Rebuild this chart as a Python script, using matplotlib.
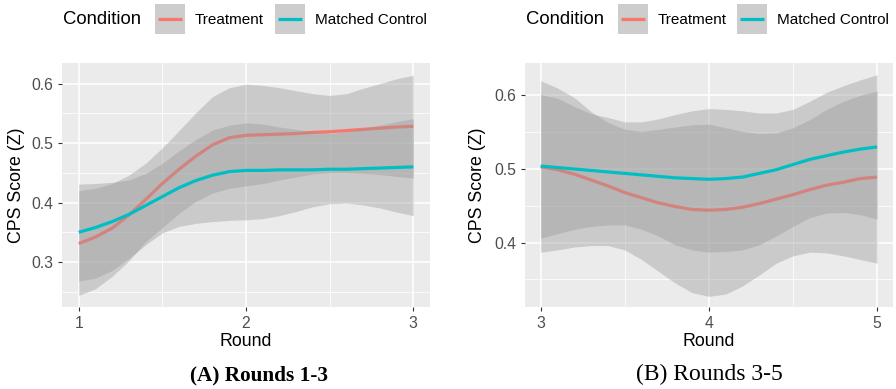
import matplotlib
matplotlib.use("Agg")
import matplotlib.pyplot as plt
from matplotlib.patches import Rectangle
from matplotlib.lines import Line2D

# ---------------- data ----------------
conditions = ["Treatment", "Matched Control"]
colors = {"Treatment": "#F8766D", "Matched Control": "#00BFC4"}

# Panel A: rounds 1-3
round_a = [1.0, 1.1, 1.2, 1.3, 1.4, 1.5, 1.6, 1.7, 1.8, 1.9, 2.0,
           2.1, 2.2, 2.3, 2.4, 2.5, 2.6, 2.7, 2.8, 2.9, 3.0]
treat_a = [0.331, 0.342, 0.357, 0.379, 0.405, 0.432, 0.456, 0.478, 0.497, 0.509, 0.513,
           0.514, 0.515, 0.516, 0.518, 0.519, 0.521, 0.523, 0.525, 0.527, 0.528]
treat_a_lo = [0.244, 0.255, 0.276, 0.302, 0.334, 0.358, 0.382, 0.402, 0.416, 0.424, 0.428,
              0.432, 0.438, 0.443, 0.448, 0.450, 0.450, 0.449, 0.447, 0.444, 0.441]
treat_a_hi = [0.420, 0.424, 0.432, 0.446, 0.466, 0.492, 0.521, 0.551, 0.578, 0.593, 0.599,
              0.597, 0.593, 0.588, 0.583, 0.580, 0.583, 0.592, 0.600, 0.608, 0.614]
ctrl_a = [0.350, 0.358, 0.368, 0.380, 0.395, 0.410, 0.425, 0.437, 0.446, 0.452, 0.454,
          0.454, 0.455, 0.455, 0.455, 0.456, 0.456, 0.457, 0.458, 0.459, 0.460]
ctrl_a_lo = [0.268, 0.273, 0.286, 0.306, 0.329, 0.349, 0.360, 0.365, 0.368, 0.370, 0.371,
             0.373, 0.378, 0.385, 0.393, 0.398, 0.399, 0.396, 0.391, 0.384, 0.378]
ctrl_a_hi = [0.431, 0.432, 0.434, 0.438, 0.449, 0.466, 0.487, 0.506, 0.522, 0.530, 0.534,
             0.532, 0.527, 0.523, 0.519, 0.516, 0.519, 0.525, 0.530, 0.536, 0.541]

# Panel B: rounds 3-5
round_b = [3.0, 3.1, 3.2, 3.3, 3.4, 3.5, 3.6, 3.7, 3.8, 3.9, 4.0,
           4.1, 4.2, 4.3, 4.4, 4.5, 4.6, 4.7, 4.8, 4.9, 5.0]
treat_b = [0.503, 0.499, 0.493, 0.485, 0.477, 0.468, 0.461, 0.454, 0.449, 0.445, 0.444,
           0.445, 0.448, 0.453, 0.459, 0.465, 0.472, 0.478, 0.482, 0.487, 0.489]
treat_b_lo = [0.387, 0.390, 0.394, 0.396, 0.396, 0.390, 0.377, 0.361, 0.345, 0.332, 0.327,
              0.330, 0.341, 0.356, 0.372, 0.382, 0.387, 0.386, 0.382, 0.377, 0.372]
treat_b_hi = [0.620, 0.610, 0.597, 0.578, 0.563, 0.554, 0.551, 0.554, 0.557, 0.560, 0.561,
              0.556, 0.551, 0.548, 0.549, 0.556, 0.567, 0.581, 0.592, 0.600, 0.606]
ctrl_b = [0.504, 0.502, 0.500, 0.498, 0.496, 0.494, 0.492, 0.490, 0.488, 0.487, 0.486,
          0.487, 0.489, 0.494, 0.499, 0.506, 0.513, 0.518, 0.523, 0.527, 0.530]
ctrl_b_lo = [0.406, 0.412, 0.418, 0.422, 0.424, 0.424, 0.418, 0.409, 0.397, 0.390, 0.387,
             0.388, 0.390, 0.397, 0.409, 0.422, 0.434, 0.440, 0.441, 0.438, 0.432]
ctrl_b_hi = [0.601, 0.596, 0.585, 0.575, 0.570, 0.564, 0.564, 0.568, 0.574, 0.579, 0.582,
             0.581, 0.579, 0.576, 0.576, 0.581, 0.592, 0.604, 0.613, 0.621, 0.628]

xticks_a = [1, 2, 3]
xticks_b = [3, 4, 5]
yticks_a = [0.3, 0.4, 0.5, 0.6]
yticks_b = [0.4, 0.5, 0.6]
captions = ["(A) Rounds 1-3", "(B) Rounds 3-5"]

# ---------------- figure ----------------
W, H = 896, 389
fig = plt.figure(figsize=(W / 100, H / 100), dpi=100)
fig.patch.set_facecolor("white")
SANS = ["Liberation Sans", "DejaVu Sans"]
SERIF = ["Liberation Serif", "DejaVu Serif"]


def fx(p):
    return p / W


def fy(p):
    return 1 - p / H


def panel(rect, xs, series, xticks, yticks, xlim, ylim, ylabel_x):
    ax = fig.add_axes(rect)
    ax.set_facecolor("#EBEBEB")
    for s in ax.spines.values():
        s.set_visible(False)
    z = 2
    for (mean, lo, hi, col) in series:
        ax.fill_between(xs, lo, hi, color="#999999", alpha=0.4, linewidth=0, zorder=z)
        ax.plot(xs, mean, color=col, lw=2.3, zorder=z + 0.5, solid_capstyle="butt")
        z += 1
    ax.set_xlim(*xlim)
    ax.set_ylim(*ylim)
    ax.set_xticks(xticks)
    ax.set_xticklabels([str(t) for t in xticks])
    ax.set_yticks(yticks)
    ax.set_yticklabels([f"{t:.1f}" for t in yticks])
    minor_x = [(xticks[i] + xticks[i + 1]) / 2 for i in range(len(xticks) - 1)]
    step = yticks[1] - yticks[0]
    minor_y = [yticks[0] - step / 2] + [(yticks[i] + yticks[i + 1]) / 2 for i in range(len(yticks) - 1)]
    ax.set_xticks(minor_x, minor=True)
    ax.set_yticks(minor_y, minor=True)
    ax.grid(which="major", color="white", lw=1.1, zorder=1)
    ax.grid(which="minor", color="white", lw=0.55, zorder=1)
    ax.set_axisbelow(True)
    ax.tick_params(which="major", length=2.7, width=0.8, color="#333333",
                   labelcolor="#4D4D4D", labelsize=11.3, pad=3.5)
    ax.tick_params(which="minor", length=0)
    for lab in ax.get_xticklabels() + ax.get_yticklabels():
        lab.set_family(SANS)
    ax.set_xlabel("Round", family=SANS, fontsize=12.8, color="black")
    ax.set_ylabel("CPS Score (Z)", family=SANS, fontsize=12.8, color="black")
    ax.xaxis.set_label_coords(0.5, -0.108)
    ax.yaxis.set_label_coords(ylabel_x, 0.5)
    return ax


rect_a = [fx(62), fy(307), fx(430) - fx(62), fy(63) - fy(307)]
rect_b = [fx(524.7), fy(307), fx(893) - fx(524.7), fy(63) - fy(307)]

panel(rect_a, round_a,
      [(treat_a, treat_a_lo, treat_a_hi, colors["Treatment"]),
       (ctrl_a, ctrl_a_lo, ctrl_a_hi, colors["Matched Control"])],
      xticks_a, yticks_a, (0.9, 3.1), (0.2244, 0.6346), -0.100)
panel(rect_b, round_b,
      [(treat_b, treat_b_lo, treat_b_hi, colors["Treatment"]),
       (ctrl_b, ctrl_b_lo, ctrl_b_hi, colors["Matched Control"])],
      xticks_b, yticks_b, (2.905, 5.095), (0.3125, 0.644), -0.104)


# ---------------- legends ----------------
def legend(x0, key1, key2):
    fig.text(fx(x0), fy(20), "Condition", family=SANS, fontsize=13.3,
             ha="left", va="center", color="black")
    for kx, cond in zip((key1, key2), conditions):
        fig.add_artist(Rectangle((fx(kx), fy(34)), fx(30), 30 / H,
                                 transform=fig.transFigure, facecolor="#CDCDCD",
                                 edgecolor="none"))
        fig.add_artist(Line2D([fx(kx + 3), fx(kx + 27)], [fy(19), fy(19)],
                              transform=fig.transFigure, color=colors[cond],
                              lw=2.3, solid_capstyle="butt"))
        fig.text(fx(kx + 40), fy(20), cond, family=SANS, fontsize=11,
                 ha="left", va="center", color="black")


legend(63, 155, 275)
legend(526, 618, 737)

# ---------------- captions ----------------
fig.text(fx(259), fy(375), captions[0], family=SERIF, fontsize=15.3,
         fontweight="bold", ha="center", va="center")
fig.text(fx(709), fy(374), captions[1], family=SERIF, fontsize=17,
         ha="center", va="center")

fig.savefig("out.png", dpi=100, facecolor="white")
